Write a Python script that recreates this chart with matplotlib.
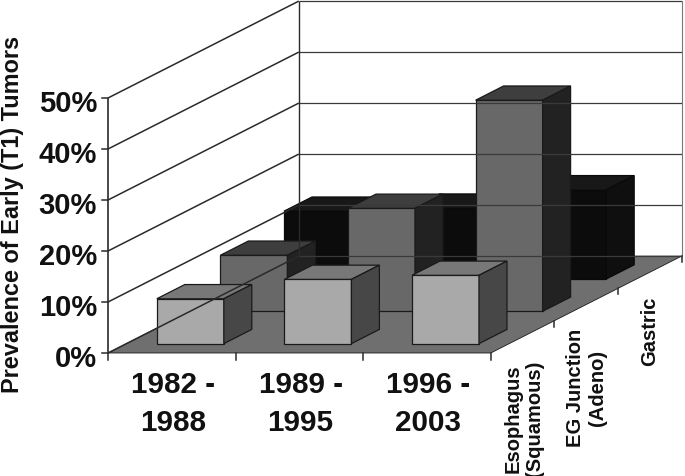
import matplotlib
matplotlib.use('Agg')
import matplotlib.pyplot as plt

periods = ['1982 -\n1988', '1989 -\n1995', '1996 -\n2003']
sites = ['Esophagus\n(Squamous)', 'EG Junction\n(Adeno)', 'Gastric']
# prevalence in %, one list per site, front row first
esophagus = [8.8, 12.6, 13.4]
eg_junction = [11.0, 20.2, 41.4]
gastric = [13.3, 13.9, 17.5]
y_ticks = [0, 10, 20, 30, 40, 50]

# front, top, side colours per row
row_colors = [('#a9a9a9', '#787878', '#474747'),
              ('#686868', '#3e3e3e', '#222222'),
              ('#0c0c0c', '#181818', '#0f0f0f')]
edge = '#1a1a1a'


# oblique projection: category, depth, percent -> pixels
def project(i, d, v):
    return 108 + 127.6 * i + 63.6 * d, 354 - 5.1 * v - 32.3 * d


def face(ax, pts, color, lw=0.9, ec=edge):
    xy = [project(*p) for p in pts]
    ax.fill([p[0] for p in xy], [p[1] for p in xy], facecolor=color,
            edgecolor=ec, linewidth=lw, joinstyle='miter')


def line(ax, a, b, color='#2a2a2a', lw=1.0):
    pa, pb = project(*a), project(*b)
    ax.plot([pa[0], pb[0]], [pa[1], pb[1]], color=color, lw=lw, solid_capstyle='butt')


plt.rcParams['font.family'] = ['Liberation Sans']
fig = plt.figure(figsize=(6.85, 4.77), dpi=100)
ax = fig.add_axes([0, 0, 1, 1])
ax.set_xlim(0, 685)
ax.set_ylim(477, 0)
ax.axis('off')

n = len(periods)
depth = len(sites)
top = y_ticks[-1]

# floor
face(ax, [(0, 0, 0), (n, 0, 0), (n, depth, 0), (0, depth, 0)], '#6f6f6f', lw=0.6)

# walls
for v in y_ticks:
    line(ax, (0, 0, v), (0, depth, v), lw=1.1)
    line(ax, (0, depth, v), (n, depth, v), lw=0.9, color='#3a3a3a')
line(ax, (0, 0, 0), (0, 0, top), lw=1.2)
line(ax, (0, depth, 0), (0, depth, top), lw=1.0)
line(ax, (n, depth, 0), (n, depth, top), lw=0.8, color='#777777')

# ticks
for v in y_ticks:
    x, y = project(0, 0, v)
    ax.plot([x - 6, x], [y, y], color='#2a2a2a', lw=1.1)
    ax.text(97, y + 5, '%d%%' % v, ha='right', va='center', fontsize=21, fontweight='bold', color='#111111')
for i in range(n + 1):
    x, y = project(i, 0, 0)
    ax.plot([x, x], [y, y + 7], color='#2a2a2a', lw=1.1)
for d in range(1, depth + 1):
    x, y = project(n, d, 0)
    ax.plot([x, x], [y, y + 6], color='#2a2a2a', lw=1.1)

# bars, back row first
rows = [esophagus, eg_junction, gastric]
bar_w = 0.525
bar_d = 0.44
off_x = 0.238
off_d = 0.29
for r in [2, 1, 0]:
    front, topc, side = row_colors[r]
    ec = '#0a0a0a' if r == 2 else edge
    for i, val in enumerate(rows[r]):
        x0 = i + off_x
        x1 = x0 + bar_w
        d0 = r + off_d
        d1 = d0 + bar_d
        face(ax, [(x0, d0, 0), (x1, d0, 0), (x1, d0, val), (x0, d0, val)], front, ec=ec)
        face(ax, [(x0, d0, val), (x1, d0, val), (x1, d1, val), (x0, d1, val)], topc, ec=ec)
        face(ax, [(x1, d0, 0), (x1, d1, 0), (x1, d1, val), (x1, d0, val)], side, ec=ec)

# labels
for i, lab in enumerate(periods):
    ax.text(173 + 127.6 * i, 404, lab, ha='center', va='center', fontsize=21.3, fontweight='bold',
            linespacing=1.42, color='#111111')

site_x = [524, 587, 650]
site_y = [419, 388, 331]
for x, y, lab in zip(site_x, site_y, sites):
    ax.text(x, y, lab, rotation=90, ha='center', va='center', fontsize=14.5, fontweight='bold',
            linespacing=1.2, color='#111111', multialignment='center')

ax.text(13, 214, 'Prevalence of Early (T1) Tumors', rotation=90, ha='center', va='center',
        fontsize=16.9, fontweight='bold', color='#111111')

fig.savefig('out.png', dpi=100)
